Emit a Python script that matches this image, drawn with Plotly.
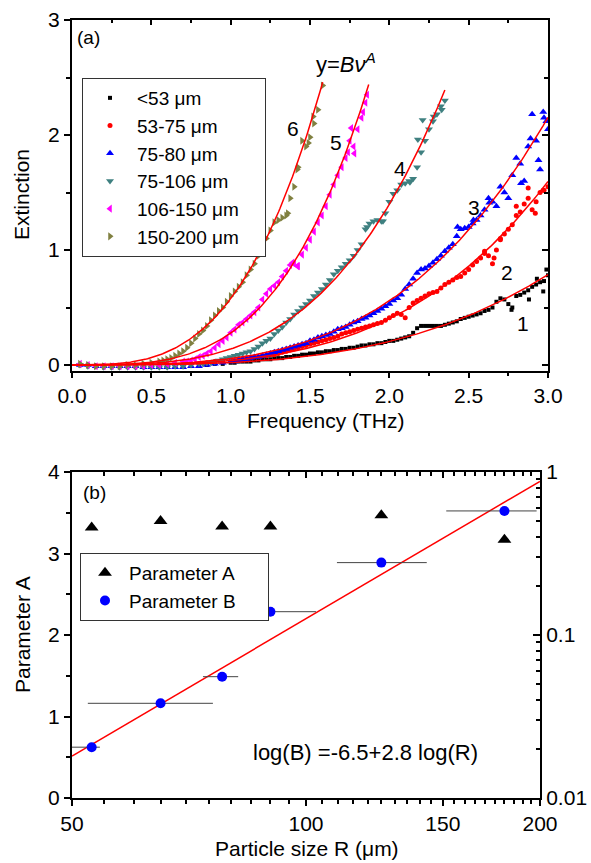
import numpy as np
import plotly.graph_objects as go

# ---------------- Panel (a) data ----------------
series_labels = ["<53 μm", "53-75 μm", "75-80 μm", "75-106 μm", "106-150 μm", "150-200 μm"]
series_colors = ["#000000", "#ff0000", "#0000ff", "#3f8080", "#ff00ff", "#808040"]
series_symbols = ["square", "circle", "triangle-up", "triangle-down", "triangle-left", "triangle-right"]
series_sizes = [4, 5, 7, 7, 7, 7]

nu_full = np.round(np.arange(0.05, 3.0001, 0.05), 2)
nu_half_123 = np.round(np.arange(1.025, 2.9801, 0.05), 3)

ext1 = [0.00, 0.00, -0.01, -0.01, -0.01, -0.01, -0.01, -0.01, -0.01, -0.01,
        -0.01, -0.01, -0.01, -0.01, 0.00, 0.00, 0.00, 0.01, 0.01, 0.02,
        0.03, 0.03, 0.04, 0.05, 0.05, 0.06, 0.07, 0.08, 0.09, 0.10,
        0.11, 0.12, 0.13, 0.14, 0.15, 0.16, 0.17, 0.18, 0.19, 0.21,
        0.22, 0.24, 0.28, 0.34, 0.34, 0.34, 0.35, 0.37, 0.40, 0.42,
        0.44, 0.47, 0.50, 0.58, 0.53, 0.60, 0.63, 0.68, 0.72, 0.78]
ext1_half = [0.02, 0.03, 0.03, 0.04, 0.05, 0.06, 0.06, 0.07, 0.08, 0.09,
             0.10, 0.11, 0.12, 0.13, 0.14, 0.15, 0.17, 0.18, 0.19, 0.20,
             0.21, 0.23, 0.25, 0.32, 0.34, 0.34, 0.34, 0.36, 0.38, 0.41,
             0.43, 0.45, 0.48, 0.55, 0.57, 0.50, 0.61, 0.65, 0.70, 0.73]
ext1_nu_extra = [2.77, 2.88, 2.93, 2.97, 2.99]
ext1_extra = [0.48, 0.57, 0.75, 0.64, 0.83]

ext2 = [0.00, 0.00, -0.01, -0.01, -0.01, -0.01, -0.01, -0.01, -0.01, -0.01,
        -0.01, -0.01, 0.00, 0.00, 0.01, 0.01, 0.02, 0.03, 0.03, 0.04,
        0.05, 0.06, 0.07, 0.08, 0.09, 0.10, 0.12, 0.14, 0.16, 0.18,
        0.20, 0.22, 0.24, 0.27, 0.29, 0.31, 0.33, 0.35, 0.37, 0.41,
        0.45, 0.41, 0.54, 0.58, 0.62, 0.64, 0.70, 0.74, 0.77, 0.83,
        0.90, 0.97, 0.88, 1.10, 1.18, 1.30, 1.40, 1.35, 1.50, 1.55]
ext2_half = [0.04, 0.05, 0.06, 0.07, 0.08, 0.09, 0.11, 0.13, 0.15, 0.17,
             0.19, 0.21, 0.23, 0.25, 0.28, 0.30, 0.32, 0.34, 0.36, 0.39,
             0.43, 0.44, 0.50, 0.56, 0.60, 0.63, 0.67, 0.72, 0.76, 0.80,
             0.87, 0.93, 0.95, 1.00, 1.14, 1.22, 1.33, 1.45, 1.42, 1.52]
ext2_nu_extra = [2.60, 2.66, 2.70, 2.80, 2.875, 2.92, 2.97]
ext2_extra = [0.99, 0.93, 1.09, 1.38, 1.54, 1.32, 1.52]

ext3 = [0.00, 0.00, -0.01, -0.01, -0.01, -0.01, -0.01, -0.01, -0.02, -0.02,
        -0.02, -0.02, -0.02, -0.02, -0.01, -0.01, 0.00, 0.01, 0.02, 0.03,
        0.04, 0.05, 0.07, 0.08, 0.10, 0.12, 0.14, 0.16, 0.18, 0.21,
        0.24, 0.26, 0.29, 0.32, 0.35, 0.38, 0.41, 0.45, 0.49, 0.53,
        0.58, 0.66, 0.75, 0.83, 0.86, 0.92, 0.99, 1.05, 1.18, 1.20,
        1.26, 1.35, 1.42, 1.55, 1.45, 1.80, 1.60, 2.18, 1.70, 2.05]
ext3_half = [0.03, 0.05, 0.06, 0.07, 0.09, 0.11, 0.13, 0.15, 0.17, 0.19,
             0.22, 0.25, 0.27, 0.31, 0.33, 0.37, 0.40, 0.43, 0.47, 0.51,
             0.56, 0.61, 0.70, 0.80, 0.84, 0.89, 0.95, 1.02, 1.12, 1.19,
             1.23, 1.30, 1.45, 1.38, 1.50, 1.65, 1.75, 1.90, 1.95, 2.15]
ext3_nu_extra = [2.43, 2.53, 2.63, 2.83, 2.89, 2.94, 2.97, 2.99]
ext3_extra = [1.20, 1.26, 1.41, 1.58, 1.97, 1.78, 2.20, 2.12]

nu4 = np.round(np.arange(0.05, 2.3501, 0.05), 2)
nu4_half = np.round(np.arange(0.825, 2.3301, 0.05), 3)
ext4 = [0.00, -0.01, -0.01, -0.02, -0.02, -0.02, -0.02, -0.02, -0.02, -0.02,
        -0.02, -0.02, -0.01, -0.01, 0.00, 0.01, 0.02, 0.03, 0.05, 0.07,
        0.09, 0.11, 0.14, 0.19, 0.23, 0.30, 0.37, 0.44, 0.50, 0.56,
        0.63, 0.70, 0.79, 0.85, 0.91, 1.00, 1.18, 1.25, 1.25, 1.42,
        1.52, 1.58, 1.62, 1.85, 2.05, 2.18, 2.30]
ext4_half = [0.01, 0.02, 0.04, 0.06, 0.08, 0.10, 0.12, 0.16, 0.21, 0.27,
             0.33, 0.40, 0.47, 0.53, 0.60, 0.66, 0.74, 0.82, 0.88, 0.95,
             1.05, 1.23, 1.26, 1.32, 1.49, 1.57, 1.60, 1.72, 1.95, 2.12,
             2.25]
ext4_nu_extra = [1.86, 1.96, 2.13, 2.18, 2.21, 2.28, 2.33]
ext4_extra = [1.20, 1.25, 1.59, 1.96, 2.13, 2.16, 2.22]

nu5 = np.round(np.arange(0.05, 1.8501, 0.05), 2)
nu5_half = np.round(np.arange(0.725, 1.8301, 0.05), 3)
ext5 = [0.01, 0.00, -0.01, -0.01, -0.01, -0.01, -0.01, -0.01, -0.01, 0.00,
        0.00, 0.01, 0.02, 0.03, 0.04, 0.07, 0.10, 0.15, 0.21, 0.28,
        0.35, 0.40, 0.46, 0.57, 0.66, 0.72, 0.82, 0.88, 0.96, 1.09,
        1.24, 1.38, 1.57, 1.72, 1.95, 2.05, 2.28]
ext5_half = [0.03, 0.05, 0.08, 0.12, 0.18, 0.24, 0.31, 0.37, 0.43, 0.50,
             0.62, 0.69, 0.77, 0.87, 0.86, 1.02, 1.16, 1.30, 1.48, 1.65,
             1.80, 1.90, 2.15]
ext5_nu_extra = [1.39, 1.42, 1.74, 1.76, 1.78, 1.835, 1.86]
ext5_extra = [0.89, 0.86, 1.85, 2.06, 1.84, 2.20, 2.35]

nu6 = np.round(np.arange(0.05, 1.5501, 0.05), 2)
nu6_half = np.round(np.arange(0.575, 1.5301, 0.05), 3)
ext6 = [0.01, 0.00, -0.01, -0.01, -0.01, -0.01, 0.00, 0.00, 0.01, 0.02,
        0.03, 0.05, 0.08, 0.12, 0.19, 0.27, 0.34, 0.43, 0.50, 0.60,
        0.68, 0.78, 0.88, 1.04, 1.17, 1.26, 1.30, 1.55, 1.95, 1.98,
        2.22]
ext6_half = [0.04, 0.06, 0.10, 0.15, 0.23, 0.30, 0.39, 0.47, 0.55, 0.64,
             0.72, 0.83, 0.95, 1.10, 1.24, 1.28, 1.45, 1.72, 1.90, 2.10]
ext6_nu_extra = [1.36, 1.42, 1.49, 1.52, 1.58]
ext6_extra = [1.32, 1.70, 1.93, 2.16, 2.43]

fit_nu_max = [3.0, 3.0, 3.0, 2.35, 1.87, 1.58]

# ---------------- Panel (b) data ----------------
particle_R = [53, 65, 78, 90, 125, 180]
R_low = [49.3, 52.4, 73.7, 82, 109.6, 151.5]
R_high = [54.3, 75.9, 81.8, 103, 143, 198]
param_A = [3.32, 3.40, 3.33, 3.33, 3.47, 3.17]
param_B = [0.0205, 0.0381, 0.0555, 0.139, 0.278, 0.577]
fit_intercept = -6.5
fit_slope = 2.8

FONT = "Liberation Sans, Arial, sans-serif"
PAD = "\u00a0" * 4
PAD2 = "\u00a0" * 5

fig = go.Figure()

nus = [list(nu_full) + list(nu_half_123) + ext1_nu_extra,
       list(nu_full) + list(nu_half_123) + ext2_nu_extra,
       list(nu_full) + list(nu_half_123) + ext3_nu_extra,
       list(nu4) + list(nu4_half) + ext4_nu_extra,
       list(nu5) + list(nu5_half) + ext5_nu_extra,
       list(nu6) + list(nu6_half) + ext6_nu_extra]
exts = [ext1 + ext1_half + ext1_extra, ext2 + ext2_half + ext2_extra,
        ext3 + ext3_half + ext3_extra, ext4 + ext4_half + ext4_extra,
        ext5 + ext5_half + ext5_extra, ext6 + ext6_half + ext6_extra]

for i in range(6):
    fig.add_trace(go.Scatter(
        x=nus[i], y=exts[i], mode="markers", name=series_labels[i] + PAD,
        marker=dict(symbol=series_symbols[i], color=series_colors[i], size=series_sizes[i],
                    line=dict(width=0)),
        xaxis="x", yaxis="y", legend="legend"))

for i in range(6):
    nf = np.linspace(0, fit_nu_max[i], 200)
    fig.add_trace(go.Scatter(
        x=nf, y=param_B[i] * nf ** param_A[i], mode="lines",
        line=dict(color="red", width=1.5), showlegend=False, hoverinfo="skip",
        xaxis="x", yaxis="y"))

# dummy traces so that the mirrored (inside-tick) frame axes are drawn
fig.add_trace(go.Scatter(x=[None], y=[None], xaxis="x3", yaxis="y3", showlegend=False, hoverinfo="skip"))
fig.add_trace(go.Scatter(x=[None], y=[None], xaxis="x4", yaxis="y4", showlegend=False, hoverinfo="skip"))

# Panel (b)
fig.add_trace(go.Scatter(
    x=particle_R, y=param_A, mode="markers", name="Parameter A" + PAD2,
    marker=dict(symbol="triangle-up", color="black", size=12),
    xaxis="x2", yaxis="y2", legend="legend2"))

Rf = np.linspace(50, 200, 100)
fig.add_trace(go.Scatter(
    x=Rf, y=10 ** (fit_intercept + fit_slope * np.log10(Rf)), mode="lines",
    line=dict(color="red", width=1.5), showlegend=False, hoverinfo="skip",
    xaxis="x2", yaxis="y4"))

fig.add_trace(go.Scatter(
    x=particle_R, y=param_B, mode="markers", name="Parameter B" + PAD2,
    marker=dict(symbol="circle", color="#0000ff", size=10),
    error_x=dict(type="data", symmetric=False,
                 array=[h - r for h, r in zip(R_high, particle_R)],
                 arrayminus=[r - l for l, r in zip(R_low, particle_R)],
                 color="#444444", thickness=1, width=0),
    cliponaxis=False,
    xaxis="x2", yaxis="y4", legend="legend2"))

W, H = 591, 863
ML, MR, MT, MB = 72, 43, 20, 65
PW, PH = W - ML - MR, H - MT - MB


def dx(x):
    return (x - ML) / PW


def dy(y):
    return (H - MB - y) / PH


def px(x):
    return x / W


def py(y):
    return 1 - y / H


TICKFONT = dict(family=FONT, size=21, color="black")
axis_common = dict(showgrid=False, zeroline=False, showline=True, linecolor="black",
                   linewidth=2, tickcolor="black", tickwidth=1.5, automargin=False,
                   tickfont=TICKFONT)

top_dom_x = [dx(72), dx(548)]
top_dom_y = [dy(371), dy(20)]
bot_dom_x = [dx(72), dx(540)]
bot_dom_y = [dy(798), dy(472)]

R_minor = [v for v in range(55, 200, 5) if v not in (100, 150)]
B_minor = [m * 0.01 for m in range(2, 10)] + [m * 0.1 for m in range(2, 10)]

fig.update_layout(
    template="none",
    width=W, height=H, margin=dict(l=ML, r=MR, t=MT, b=MB, autoexpand=False),
    paper_bgcolor="white", plot_bgcolor="white",
    font=dict(family=FONT, color="black"),
    showlegend=True,
    xaxis=dict(axis_common, domain=top_dom_x, anchor="y", range=[0, 3], tick0=0, dtick=0.5,
               tickformat=".1f", ticks="outside", ticklen=5,
               minor=dict(dtick=0.25, ticks="outside", ticklen=3, tickcolor="black", tickwidth=1.5)),
    yaxis=dict(axis_common, domain=top_dom_y, anchor="x", range=[-0.052, 3], tick0=0, dtick=1,
               ticks="outside", ticklen=6,
               minor=dict(dtick=0.5, ticks="outside", ticklen=4, tickcolor="black", tickwidth=1.5)),
    xaxis3=dict(axis_common, overlaying="x", side="top", anchor="y", range=[0, 3], tick0=0, dtick=0.5,
                ticks="inside", ticklen=5, showticklabels=False,
                minor=dict(dtick=0.25, ticks="inside", ticklen=3, tickcolor="black", tickwidth=1.5)),
    yaxis3=dict(axis_common, overlaying="y", side="right", anchor="x", range=[-0.052, 3], tick0=0, dtick=1,
                ticks="inside", ticklen=6, showticklabels=False,
                minor=dict(dtick=0.5, ticks="inside", ticklen=4, tickcolor="black", tickwidth=1.5)),
    xaxis2=dict(axis_common, domain=bot_dom_x, anchor="y2", type="log",
                range=[np.log10(50), np.log10(200)],
                tickvals=[50, 100, 150, 200], ticktext=["50", "100", "150", "200"],
                ticks="outside", ticklen=6,
                minor=dict(tickvals=R_minor, ticks="outside", ticklen=4, tickcolor="black", tickwidth=1.5)),
    yaxis2=dict(axis_common, domain=bot_dom_y, anchor="x2", range=[0, 4], tick0=0, dtick=1,
                ticks="outside", ticklen=6,
                minor=dict(dtick=0.5, ticks="outside", ticklen=4, tickcolor="black", tickwidth=1.5)),
    xaxis4=dict(axis_common, overlaying="x2", side="top", anchor="y2", type="log",
                range=[np.log10(50), np.log10(200)],
                tickvals=[50, 100, 150, 200], ticks="inside", ticklen=6, showticklabels=False,
                minor=dict(tickvals=R_minor, ticks="inside", ticklen=4, tickcolor="black", tickwidth=1.5)),
    yaxis4=dict(axis_common, overlaying="y2", side="right", anchor="x2", type="log",
                range=[-2, 0], tickvals=[0.01, 0.1, 1], ticktext=["0.01", "0.1", "1"],
                ticks="inside", ticklen=7,
                minor=dict(tickvals=B_minor, ticks="inside", ticklen=4, tickcolor="black", tickwidth=1.5)),
    legend=dict(x=px(82), y=py(78), xanchor="left", yanchor="top", xref="container", yref="container",
                bgcolor="white", bordercolor="#333333", borderwidth=1,
                font=dict(family=FONT, size=19), itemwidth=44),
    legend2=dict(x=px(80), y=py(553), xanchor="left", yanchor="top", xref="container", yref="container",
                 bgcolor="white", bordercolor="#333333", borderwidth=1,
                 font=dict(family=FONT, size=19), itemwidth=38),
)

ann = [
    ("(a)", 88, 37, 19, 0),
    ("y=<i>B</i><i>ν</i><sup><i>A</i></sup>", 346, 63, 22, 0),
    ("6", 293, 128, 21, 0), ("5", 336, 143, 21, 0), ("4", 400, 168, 21, 0),
    ("3", 474, 207, 21, 0), ("2", 507, 272, 21, 0), ("1", 523, 323, 21, 0),
    ("(b)", 94, 492, 19, 0),
    ("log(B) =-6.5+2.8 log(R)", 365, 752, 22, 0),
    ("Frequency (THz)", 326, 420, 21, 0),
    ("Extinction", 22, 195, 21, -90),
    ("Particle size R (μm)", 307, 848, 21, 0),
    ("Parameter A", 22, 635, 21, -90),
]
for text, x, y, s, ang in ann:
    fig.add_annotation(text=text, x=dx(x), y=dy(y), xref="paper", yref="paper",
                       showarrow=False, xanchor="center", yanchor="middle", textangle=ang,
                       font=dict(family=FONT, size=s, color="black"))

fig.write_html("out.html", config={"displayModeBar": False},
               post_script="document.body.style.margin='0px';")
